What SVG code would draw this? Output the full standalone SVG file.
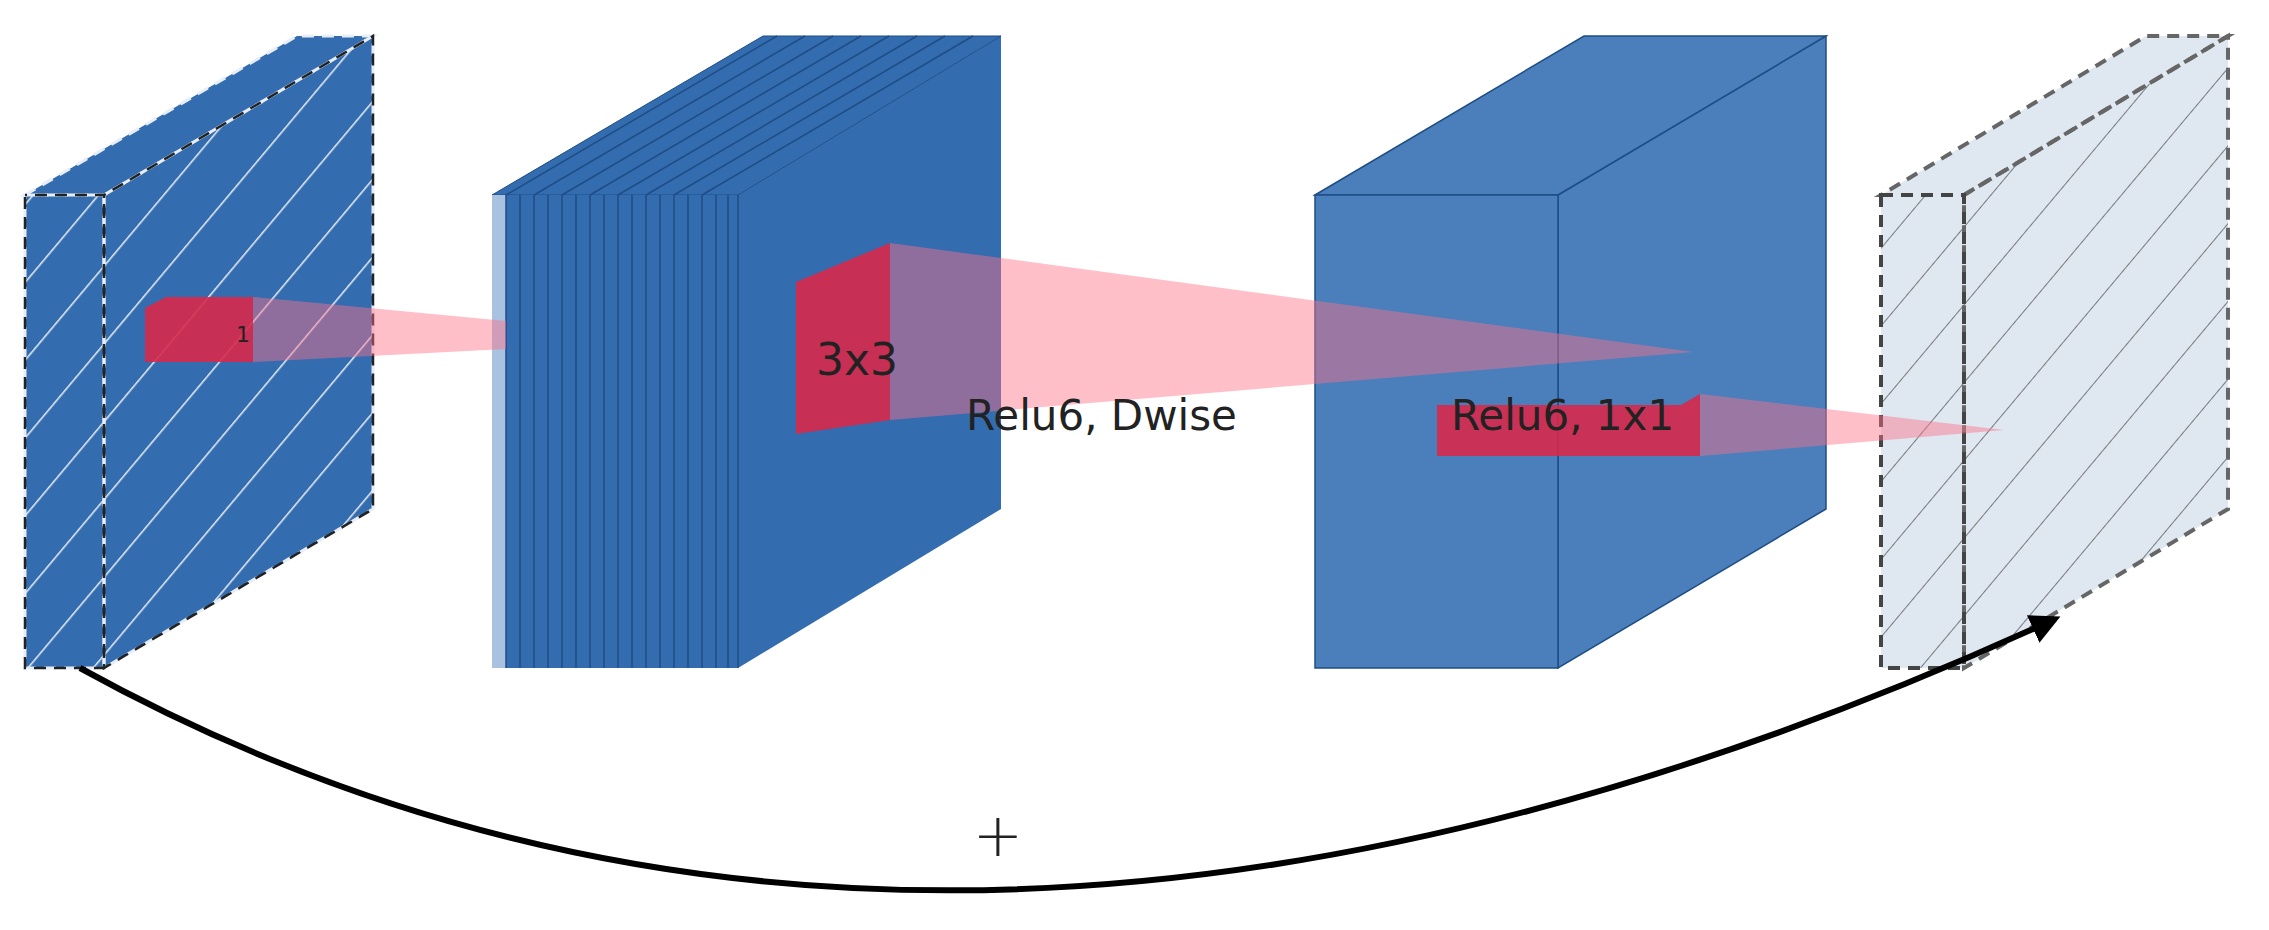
<svg xmlns="http://www.w3.org/2000/svg" width="2269" height="930" viewBox="0 0 2269 930">
<defs>
<pattern id="hw" width="50" height="50" patternUnits="userSpaceOnUse" patternTransform="rotate(-50)"><rect width="50" height="50" fill="#336caf"/><line x1="0" y1="0" x2="50" y2="0" stroke="#e8eef8" stroke-width="3"/></pattern>
<pattern id="hd" width="50" height="50" patternUnits="userSpaceOnUse" patternTransform="rotate(-50)"><rect width="50" height="50" fill="#dfe7f1"/><line x1="0" y1="0" x2="50" y2="0" stroke="#555" stroke-width="1.5"/></pattern>
<marker id="ah" markerWidth="6" markerHeight="6" refX="4" refY="3" orient="auto" markerUnits="strokeWidth"><path d="M0,0.5 L5,3 L0,5.5 z" fill="#000"/></marker>
<style>
.t{font-family:"DejaVu Sans",sans-serif;fill:#222}
.pink{fill:#ff7088;fill-opacity:0.45}
.red{fill:#d7294a;fill-opacity:0.9}
.bw{stroke:#e8eef8;stroke-width:3;stroke-dasharray:12 8;fill:none}
.bk{stroke:#222;stroke-width:2.5;stroke-dasharray:12 8;fill:none}
</style>
</defs>
<g id="input">
<polygon points="104,195 373,36 373,509 104,668" fill="url(#hw)"/>
<polygon points="25,195 297,36 373,36 104,195" fill="#336caf"/>
<rect x="25" y="195" width="79" height="473" fill="url(#hw)"/>
<polygon points="104,195 373,36 373,509 104,668" class="bw"/>
<polygon points="25,195 297,36 373,36 104,195" class="bw"/>
<rect x="25" y="195" width="79" height="473" class="bw"/>
<polygon points="104,195 373,36 373,509 104,668" class="bk" stroke-dashoffset="10" stroke-width="1.5"/>
<rect x="25" y="195" width="79" height="473" class="bk" stroke-dashoffset="10" stroke-width="1.5"/>
</g>
<g id="dwise-block">
<polygon points="738,195 1001,36 1001,509 738,668" fill="#336caf"/>
<polygon points="492,195 763,36 1001,36 738,195" fill="#336caf" stroke="#1f4d85" stroke-width="1"/>
<rect x="492" y="195" width="246" height="473" fill="#336caf"/>
<rect x="492" y="195" width="14" height="473" fill="#a9c2e0"/>
<g stroke="#1f4d85" stroke-width="1.5">
<line x1="506" y1="195" x2="506" y2="668"/><line x1="520" y1="195" x2="520" y2="668"/><line x1="534" y1="195" x2="534" y2="668"/><line x1="548" y1="195" x2="548" y2="668"/><line x1="562" y1="195" x2="562" y2="668"/><line x1="576" y1="195" x2="576" y2="668"/><line x1="590" y1="195" x2="590" y2="668"/><line x1="604" y1="195" x2="604" y2="668"/><line x1="618" y1="195" x2="618" y2="668"/><line x1="632" y1="195" x2="632" y2="668"/><line x1="646" y1="195" x2="646" y2="668"/><line x1="660" y1="195" x2="660" y2="668"/><line x1="674" y1="195" x2="674" y2="668"/><line x1="688" y1="195" x2="688" y2="668"/><line x1="702" y1="195" x2="702" y2="668"/><line x1="716" y1="195" x2="716" y2="668"/><line x1="728" y1="195" x2="728" y2="668"/><line x1="738" y1="195" x2="738" y2="668"/>
<line x1="506" y1="195" x2="777" y2="36"/><line x1="534" y1="195" x2="805" y2="36"/><line x1="562" y1="195" x2="833" y2="36"/><line x1="590" y1="195" x2="861" y2="36"/><line x1="618" y1="195" x2="889" y2="36"/><line x1="646" y1="195" x2="917" y2="36"/><line x1="674" y1="195" x2="945" y2="36"/><line x1="702" y1="195" x2="973" y2="36"/>
</g>
</g>
<g id="conv-block">
<polygon points="1558,195 1826,36 1826,509 1558,668" fill="#4a7fbc" stroke="#1f4d85" stroke-width="1.5"/>
<polygon points="1315,195 1584,36 1826,36 1558,195" fill="#4a7fbc" stroke="#1f4d85" stroke-width="1.5"/>
<rect x="1315" y="195" width="243" height="473" fill="#4a7fbc" stroke="#1f4d85" stroke-width="1.5"/>
</g>
<g id="output">
<polygon points="1964,195 2228,36 2228,509 1964,668" fill="url(#hd)"/>
<polygon points="1881,195 1964,195 2228,36 2146,36" fill="#dfe7f1"/>
<rect x="1881" y="195" width="83" height="473" fill="url(#hd)"/>
<polygon points="1964,195 2228,36 2228,509 1964,668" fill="none" stroke="#666" stroke-width="4" stroke-dasharray="12 8"/>
<polygon points="1881,195 1964,195 2228,36 2146,36" fill="none" stroke="#666" stroke-width="4" stroke-dasharray="12 8"/>
<rect x="1881" y="195" width="83" height="473" fill="none" stroke="#444" stroke-width="4" stroke-dasharray="12 8"/>
</g>
<g id="kernels">
<polygon points="253,297 253,362 506,349 506,321" class="pink"/>
<polygon points="145,308 166,297 253,297 253,362 145,362" class="red"/>
<polygon points="890,243 890,420 1693,352" class="pink"/>
<polygon points="796,282 890,243 890,420 796,434" class="red"/>
<polygon points="1700,394 1700,456 2004,430" class="pink"/>
<polygon points="1437,405 1681,405 1700,394 1700,456 1437,456" class="red"/>
<text class="t" x="236" y="342" font-size="22">1</text>
<text class="t" x="816" y="375" font-size="44">3x3</text>
<text class="t" x="966" y="430" font-size="42">Relu6, Dwise</text>
<text class="t" x="1451" y="430" font-size="42">Relu6, 1x1</text>
</g>
<g id="connectors">
<path d="M80,668 Q928,1136 2055,619" fill="none" stroke="#000" stroke-width="6" marker-end="url(#ah)"/>
<text class="t" x="998" y="856" font-size="60" font-weight="200" text-anchor="middle">+</text>
</g>
</svg>
